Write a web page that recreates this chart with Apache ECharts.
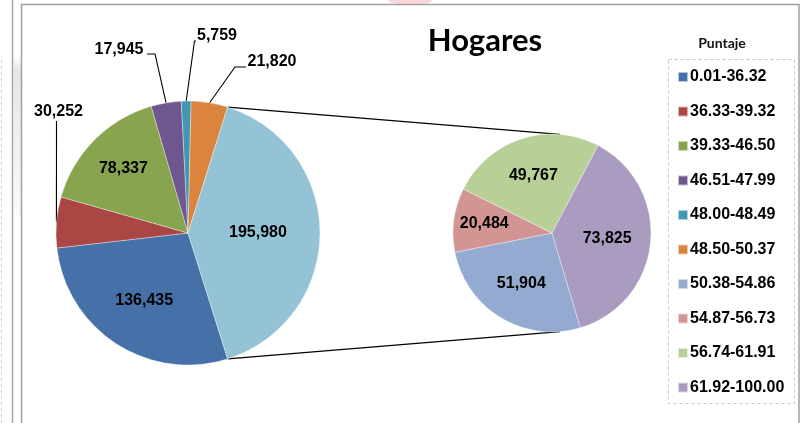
<!DOCTYPE html>
<html>
<head>
<meta charset="utf-8">
<script src="https://cdn.jsdelivr.net/npm/echarts@6/dist/echarts.min.js"></script>
<style>html,body{margin:0;padding:0;background:#fff;}#c{width:808px;height:423px;}</style>
</head>
<body>
<div id="c"></div>
<script>
// ---- data ----
const mainCategories = ['0.01-36.32', '36.33-39.32', '39.33-46.50', '46.51-47.99', '48.00-48.49', '48.50-50.37'];
const mainValues = [136435, 30252, 78337, 17945, 5759, 21820];
const subCategories = ['50.38-54.86', '54.87-56.73', '56.74-61.91', '61.92-100.00'];
const subValues = [51904, 20484, 49767, 73825];
const otherName = 'Otros';
const titleText = 'Hogares';
const legendTitle = 'Puntaje';

// ---- style / layout ----
const mainColors = ['#4671A8', '#AA4643', '#88A44E', '#6F568E', '#3F98AF', '#DA843E'];
const otherColor = '#93C3D5';
const subColors = ['#94AAD0', '#D29594', '#B9CF98', '#A99CC0'];
const FONT = "Arial, 'Liberation Sans', sans-serif";
const mainCenter = [188, 233], mainR = 132;
const subCenter = [552, 233], subR = 99;
const subStart = 286.6;

const otherValue = subValues.reduce((a, b) => a + b, 0);
const mainAll = mainValues.concat([otherValue]);
const mainTotal = mainAll.reduce((a, b) => a + b, 0);
const otherSpan = otherValue / mainTotal * 360;
const mainStart = 360 - otherSpan / 2;

function midAngles(values, start) {
  const total = values.reduce((a, b) => a + b, 0);
  let a = start;
  return values.map(v => { const s = v / total * 360; const m = a - s / 2; a -= s; return m; });
}
const mainMid = midAngles(mainAll, mainStart);
const subMid = midAngles(subValues, subStart);
function polar(c, r, deg) {
  const t = deg * Math.PI / 180;
  return [c[0] + r * Math.cos(t), c[1] - r * Math.sin(t)];
}

// inside label radial factors
const mainInside = {0: 0.61, 2: 0.69, 6: 0.53};
const subInside = {0: 0.60, 1: 0.69, 2: 0.61, 3: 0.56};
// outside labels: text centre and leader bend points
const mainOutside = {
  1: {text: [58.5, 112], pts: [[56.5, 121], [56.5, 121]]},
  3: {text: [119, 50], pts: [[155, 54], [147, 54]]},
  4: {text: [217, 36], pts: [[194.5, 41], [196, 41]]},
  5: {text: [272, 62], pts: [[235, 67], [246, 67]]}
};

const fmt = v => v.toLocaleString('en-US');

const mainData = mainAll.map((v, i) => {
  const isOther = i === mainAll.length - 1;
  const inside = mainInside[i] !== undefined;
  return {
    name: isOther ? otherName : mainCategories[i],
    value: v,
    itemStyle: {color: isOther ? otherColor : mainColors[i]},
    label: {position: inside ? 'inside' : 'outside'},
    labelLine: {show: !inside}
  };
});
const subData = subValues.map((v, i) => ({
  name: subCategories[i], value: v,
  itemStyle: {color: subColors[i]},
  label: {position: 'inside'},
  labelLine: {show: false}
}));

const labelStyle = {
  show: true, color: '#000', fontFamily: FONT, fontWeight: 'bold', fontSize: 16,
  formatter: p => fmt(p.value)
};

// connector lines from the "other" slice edges to the secondary pie
const pTop1 = polar(mainCenter, mainR, otherSpan / 2);
const pBot1 = polar(mainCenter, mainR, -otherSpan / 2);
const pTop2 = polar(subCenter, subR, 85.4);
const pBot2 = polar(subCenter, subR, -85.4);

const chart = echarts.init(document.getElementById('c'), null, {renderer: 'canvas'});
chart.setOption({
  backgroundColor: '#fff',
  animation: false,
  legend: {
    data: mainCategories.concat(subCategories),
    orient: 'vertical', left: 677, top: 69, padding: 0,
    itemWidth: 10, itemHeight: 10, itemGap: 18.5, icon: 'rect',
    selectedMode: false,
    textStyle: {fontFamily: FONT, fontWeight: 'bold', fontSize: 16, color: '#000', lineHeight: 16, padding: [0, 0, 0, -3]}
  },
  graphic: [
    {type: 'line', silent: true, z: -1, shape: {x1: 1.5, y1: 60, x2: 1.5, y2: 423}, style: {stroke: '#d0d0d0', lineWidth: 1, lineDash: [3, 3]}},
    {type: 'rect', silent: true, z: -1, shape: {x: 13.5, y: 55, width: 7.5, height: 160}, style: {fill: new echarts.graphic.LinearGradient(0, 0, 0, 1, [{offset: 0, color: '#ffffff'}, {offset: 0.1, color: '#e6e6e6'}, {offset: 1, color: '#fafafa'}])}},
    {type: 'line', silent: true, z: -1, shape: {x1: 12.5, y1: 0, x2: 12.5, y2: 423}, style: {stroke: '#a6a6a6', lineWidth: 1.5}},
    {type: 'ellipse', silent: true, z: -1, shape: {cx: 410, cy: 0, rx: 22, ry: 5}, style: {fill: '#fbd6dc'}},
    {type: 'rect', silent: true, z: -1, shape: {x: 21.5, y: 4.5, width: 777.5, height: 440}, style: {fill: 'none', stroke: '#a0a0a0', lineWidth: 1.5}},
    {type: 'rect', silent: true, z: -1, shape: {x: 668.5, y: 59.5, width: 126, height: 344}, style: {fill: 'none', stroke: '#c8c8c8', lineWidth: 1, lineDash: [3, 3]}},
    {type: 'text', silent: true, style: {text: titleText, x: 485, y: 41, textAlign: 'center', textVerticalAlign: 'middle', font: "bold 31px Lato, 'Liberation Sans', sans-serif", fill: '#000'}},
    {type: 'text', silent: true, style: {text: legendTitle, x: 722, y: 43, textAlign: 'center', textVerticalAlign: 'middle', font: "bold 14px Lato, 'Liberation Sans', sans-serif", fill: '#111'}},
    {type: 'line', silent: true, shape: {x1: pTop1[0], y1: pTop1[1], x2: pTop2[0], y2: pTop2[1]}, style: {stroke: '#000', lineWidth: 1.2}},
    {type: 'line', silent: true, shape: {x1: pBot1[0], y1: pBot1[1], x2: pBot2[0], y2: pBot2[1]}, style: {stroke: '#000', lineWidth: 1.2}}
  ],
  series: [
    {
      type: 'pie', center: mainCenter, radius: mainR, startAngle: mainStart, clockwise: true,
      avoidLabelOverlap: false, silent: true,
      itemStyle: {borderColor: 'rgba(255,255,255,0.6)', borderWidth: 0.6},
      label: labelStyle,
      labelLine: {lineStyle: {color: '#000', width: 1.1}},
      data: mainData,
      labelLayout: function (p) {
        const i = p.dataIndex;
        if (mainInside[i] !== undefined) {
          const q = polar(mainCenter, mainInside[i] * mainR, mainMid[i]);
          return {x: q[0], y: q[1], align: 'center', verticalAlign: 'middle'};
        }
        const o = mainOutside[i];
        if (!o) return {};
        const edge = polar(mainCenter, mainR, mainMid[i]);
        return {x: o.text[0], y: o.text[1], align: 'center', verticalAlign: 'middle',
          labelLinePoints: [edge, o.pts[0], o.pts[1]]};
      }
    },
    {
      type: 'pie', center: subCenter, radius: subR, startAngle: subStart, clockwise: true,
      avoidLabelOverlap: false, silent: true,
      itemStyle: {borderColor: 'rgba(255,255,255,0.6)', borderWidth: 0.6},
      label: labelStyle,
      data: subData,
      labelLayout: function (p) {
        const i = p.dataIndex;
        const q = polar(subCenter, subInside[i] * subR, subMid[i]);
        return {x: q[0], y: q[1], align: 'center', verticalAlign: 'middle'};
      }
    }
  ]
});
</script>
</body>
</html>
